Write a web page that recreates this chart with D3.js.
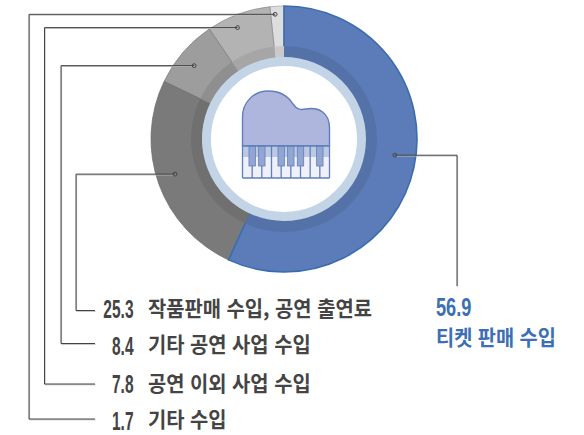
<!DOCTYPE html>
<html lang="ko"><head><meta charset="utf-8">
<script src="https://cdn.jsdelivr.net/npm/d3@7"></script>
<style>html,body{margin:0;padding:0;background:#fff}svg{display:block}
text{font-family:"Noto Sans CJK KR","Noto Sans",sans-serif;font-weight:700}
.num{font-family:"Liberation Sans Narrow","Liberation Sans",sans-serif}</style></head>
<body><svg id="c" width="584" height="435"></svg>
<script>
const categories = ["티켓 판매 수입","작품판매 수입, 공연 출연료","기타 공연 사업 수입","공연 이외 사업 수입","기타 수입"];
const values = [56.9,25.3,8.4,7.8,1.7];
const valueLabels = ["56.9","25.3","8.4","7.8","1.7"];
const sliceColors = ["#5b7cb8","#7a7a7a","#9c9d9c","#b2b3b2","#dcdddc"];
const bandColors = ["#5572a8","#707070","#8e8f8e","#a5a6a5","#c9cac9"];
const strokeColors = ["#3a6db0","#6e6e6e","#7f807f","#8d8e8d","#a8a9a8"];
// leader layout
const dotRadius = [112,114.5,116,120.7,125];
const dotAngleShift = [-4,2,-1.5,-2.5,-1];
const elbowX = [457,76,61,44.5,29];
const rowY = [286,310.5,343.5,384,419];
const textBase = [0,315.5,352,390.5,426.5];
const numBase = [0,318,355,393,430];

const cx=284, cy=139, R=133, rBand=93, rRing=82, rWhite=73;
const svg=d3.select("#c");
const pie=d3.pie().sort(null).value(d=>d)(values);
const g=svg.append("g").attr("transform",`translate(${cx},${cy})`);
const arcBand=d3.arc().innerRadius(rRing).outerRadius(rBand);
const order=[4,3,2,1,0];
g.selectAll("path.s").data(order).join("path").attr("class","s")
 .attr("d",i=>d3.arc().innerRadius(rRing).outerRadius(R)(pie[i]))
 .attr("fill",i=>sliceColors[i]).attr("stroke",i=>strokeColors[i]).attr("stroke-width",i=>i==0?1.6:0.8);
g.selectAll("path.b").data(order).join("path").attr("class","b")
 .attr("d",i=>arcBand(pie[i])).attr("fill",i=>bandColors[i]);
g.append("circle").attr("r",(rRing+rWhite)/2).attr("fill","#fff").attr("stroke","#c3d4e6").attr("stroke-width",rRing-rWhite);

// piano icon
const p=svg.append("g");
const st="#5f7fbb";
p.append("path").attr("d","M242.5,146V117C242.5,102 254,91 268,91C280,91 288,96 293,104C297,110 301,110 306,109C318,107 329.5,112 329.5,128V146Z")
 .attr("fill","#aeb6dd").attr("stroke",st).attr("stroke-width",1.4);
const kx=d3.scaleLinear().domain([0,9]).range([242.5,329.5]);
p.append("rect").attr("x",kx(0)).attr("y",146).attr("width",kx(9)-kx(0)).attr("height",11).attr("fill","#bcc9e3");
p.append("rect").attr("x",kx(0)).attr("y",157).attr("width",kx(9)-kx(0)).attr("height",21).attr("fill","#eff0fa");
d3.range(0,10).forEach(i=>{const blk=[1,2,4,5,6,8].includes(i);
 p.append("line").attr("x1",kx(i)).attr("x2",kx(i)).attr("y1",blk?165:146).attr("y2",178).attr("stroke",st).attr("stroke-width",1.3);});
[1,2,4,5,6,8].forEach(i=>p.append("rect").attr("x",kx(i)-3.2).attr("y",146).attr("width",6.4).attr("height",20).attr("fill","#93a6d2").attr("stroke",st).attr("stroke-width",.8));
p.append("line").attr("x1",kx(0)).attr("x2",kx(9)).attr("y1",146).attr("y2",146).attr("stroke",st).attr("stroke-width",1.4);
p.append("line").attr("x1",kx(0)).attr("x2",kx(9)).attr("y1",178).attr("y2",178).attr("stroke",st).attr("stroke-width",1.4);

// leaders
const endX=95;
values.forEach((v,i)=>{
 const a=(pie[i].startAngle+pie[i].endAngle)/2+dotAngleShift[i]*Math.PI/180;
 const dx=cx+dotRadius[i]*Math.sin(a), dy=cy-dotRadius[i]*Math.cos(a);
 const pts=i==0?[[dx,dy],[elbowX[i],dy],[elbowX[i],rowY[i]]]:[[dx,dy],[elbowX[i],dy],[elbowX[i],rowY[i]],[endX,rowY[i]]];
 const line=d3.line()(pts);
 svg.append("path").attr("d",line).attr("transform","translate(.6,.8)").attr("fill","none").attr("stroke","#bbb").attr("stroke-width",1);
 svg.append("path").attr("d",line).attr("fill","none").attr("stroke","#444").attr("stroke-width",1);
 svg.append("circle").attr("cx",dx).attr("cy",dy).attr("r",1.9).attr("fill","none").attr("stroke","#444").attr("stroke-width",1);
});

// labels
const dark="#444444", blue="#3c6fb3";
function txt(s,x,y,size,sx,fill,anchor,cls){
 svg.append("text").attr("class",cls||null).attr("transform",`translate(${x},${y}) scale(${sx},1)`)
  .attr("font-size",size).attr("fill",fill).attr("text-anchor",anchor||"start").text(s);
}
[1,2,3,4].forEach(i=>{
 txt(valueLabels[i],133.5,numBase[i],25,0.62,dark,"end","num");
 txt(categories[i],148,textBase[i],21,0.945,dark);
});
txt(valueLabels[0],436,316,26,0.7,blue,"start","num");
txt(categories[0],436,345,21,0.94,blue);
</script></body></html>
